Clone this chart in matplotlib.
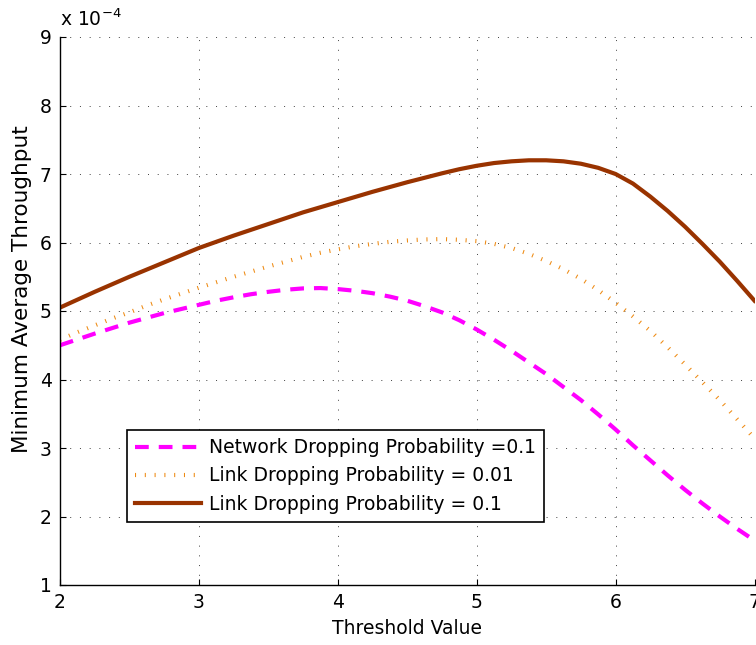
import matplotlib
matplotlib.use("Agg")
import matplotlib.pyplot as plt

plt.rcParams['font.family'] = ['DejaVu Sans']
plt.rcParams['mathtext.fontset'] = 'dejavusans'

threshold = [2.0, 2.125, 2.25, 2.375, 2.5, 2.625, 2.75, 2.875, 3.0, 3.125, 3.25,
             3.375, 3.5, 3.625, 3.75, 3.875, 4.0, 4.125, 4.25, 4.375, 4.5,
             4.625, 4.75, 4.875, 5.0, 5.125, 5.25, 5.375, 5.5, 5.625, 5.75,
             5.875, 6.0, 6.125, 6.25, 6.375, 6.5, 6.625, 6.75, 6.875, 7.0]
network_p01 = [4.50, 4.585, 4.67, 4.75, 4.83, 4.90, 4.97, 5.03, 5.09, 5.15, 5.20,
               5.245, 5.28, 5.31, 5.33, 5.335, 5.32, 5.295, 5.26, 5.21, 5.15,
               5.07, 4.98, 4.865, 4.73, 4.58, 4.42, 4.25, 4.08, 3.89, 3.70,
               3.49, 3.27, 3.04, 2.82, 2.60, 2.39, 2.19, 2.00, 1.82, 1.65]
link_p001 = [4.58, 4.69, 4.79, 4.89, 4.98, 5.08, 5.17, 5.255, 5.34, 5.42, 5.50,
             5.575, 5.65, 5.72, 5.79, 5.85, 5.90, 5.945, 5.98, 6.01, 6.03,
             6.045, 6.05, 6.04, 6.02, 5.98, 5.92, 5.835, 5.73, 5.61, 5.47,
             5.305, 5.12, 4.92, 4.71, 4.47, 4.22, 3.96, 3.70, 3.42, 3.14]
link_p01 = [5.05, 5.165, 5.28, 5.39, 5.50, 5.605, 5.71, 5.815, 5.92, 6.01, 6.10,
            6.185, 6.27, 6.355, 6.44, 6.515, 6.59, 6.665, 6.74, 6.81, 6.88,
            6.945, 7.01, 7.07, 7.12, 7.16, 7.185, 7.20, 7.20, 7.185, 7.15,
            7.09, 7.00, 6.86, 6.67, 6.46, 6.23, 5.98, 5.72, 5.44, 5.15]
labels = ['Network Dropping Probability =0.1',
          'Link Dropping Probability = 0.01',
          'Link Dropping Probability = 0.1']
xticks = [2, 3, 4, 5, 6, 7]
yticks = [1, 2, 3, 4, 5, 6, 7, 8, 9]

fig = plt.figure(figsize=(7.56, 6.45), dpi=100)
ax = fig.add_axes([60/756, 60/645, 694.5/756, 548/645])

ax.plot(threshold, network_p01, color='#FF00FF', lw=3.0, dashes=(3.3, 2.4),
        dash_capstyle='butt', label=labels[0])
ax.plot(threshold, link_p001, color='#EE8A12', lw=3.0, dashes=(0.25, 2.1),
        dash_capstyle='butt', label=labels[1])
ax.plot(threshold, link_p01, color='#993300', lw=3.0, label=labels[2])

ax.set_xlim(2, 7)
ax.set_ylim(1, 9)
ax.set_xticks(xticks)
ax.set_yticks(yticks)
ax.set_xticklabels([str(v) for v in xticks])
ax.set_yticklabels([str(v) for v in yticks])
ax.grid(True, color='0.25', lw=0.7, dashes=(1, 9))
ax.set_axisbelow(True)
for s in ['top', 'right']:
    ax.spines[s].set_visible(False)
for s in ['left', 'bottom']:
    ax.spines[s].set_linewidth(1.0)
ax.tick_params(direction='in', length=4, width=0.8, labelsize=13.5, pad=6)

ax.set_xlabel('Threshold Value', fontsize=13.5, labelpad=5)
ax.set_ylabel('Minimum Average Throughput', fontsize=15.5)
ax.yaxis.set_label_coords(-0.041, 0.54)
ax.text(0.0, 1.012, r'x 10$^{-4}$', transform=ax.transAxes, fontsize=13.5,
        ha='left', va='bottom')

leg = ax.legend(loc='lower left', bbox_to_anchor=(0.0965, 0.115),
                borderaxespad=0, fontsize=13.5, handlelength=3.47,
                handletextpad=0.43, labelspacing=0.49, borderpad=0.45,
                fancybox=False, framealpha=1, edgecolor='black')
leg.get_frame().set_linewidth(1.2)

fig.savefig('out.png', dpi=100)
